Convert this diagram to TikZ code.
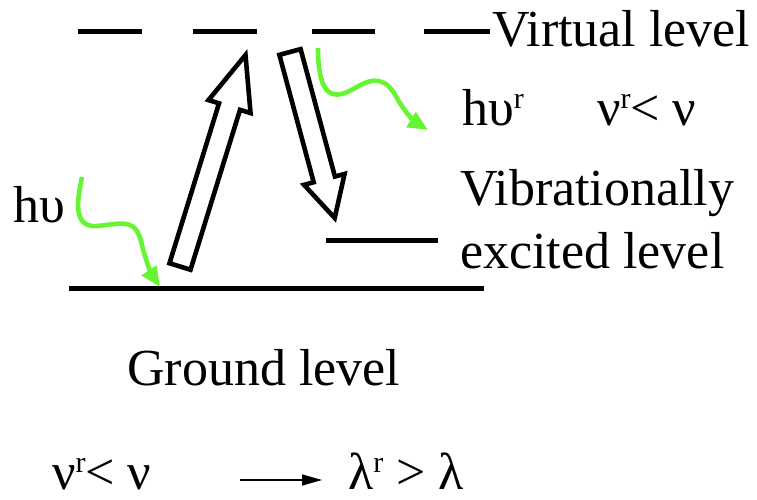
\documentclass[tikz,border=0pt]{standalone}
\usepackage{fontspec}
\setmainfont{LiberationSerif}[Extension=.ttf, UprightFont=*-Regular]
\usetikzlibrary{arrows.meta, calc}

\definecolor{ramangreen}{RGB}{102,245,51}

% raised small r
\newcommand{\supr}{\raisebox{0.32em}{\fontsize{30}{30}\selectfont r}}

% hollow block arrow: tail, tip, shaft half width, head half width, head length
\newcommand{\blockarrow}[5]{%
  \coordinate (ba-h) at ($(#2)!#5!(#1)$);
  \draw[hollow] ($(#1)!#3!90:(#2)$) -- ($(ba-h)!#3!90:(#2)$) -- ($(ba-h)!#4!90:(#2)$)
        -- (#2) -- ($(ba-h)!#4!-90:(#2)$) -- ($(ba-h)!#3!-90:(#2)$) -- ($(#1)!#3!-90:(#2)$) -- cycle;
}

\begin{document}
\begin{tikzpicture}[x=1pt, y=-1pt,
    level/.style={line width=5pt},
    hollow/.style={draw, line width=4.6pt, fill=white, line join=miter},
    photon/.style={line width=4.6pt, draw=ramangreen, -{Triangle[length=20pt, width=17pt]}},
    lvltext/.style={anchor=base west, inner sep=0pt, font=\fontsize{52}{60}\selectfont},
]
  \useasboundingbox (0,0) rectangle (757,500);

  % Virtual level (dashed)
  \foreach \xa/\xb in {78/142, 193/257, 312/375, 424/490} {
      \draw[level] (\xa,32) -- (\xb,32);
  }
  \node[lvltext] (virtual) at (492,47) {Virtual level};

  % Ground and vibrational levels
  \coordinate (ground-l) at (69,288);
  \coordinate (ground-r) at (484,288);
  \coordinate (vib-l) at (326,240);
  \coordinate (vib-r) at (438,240);
  \draw[level] (ground-l) -- (ground-r);
  \draw[level] (vib-l) -- (vib-r);

  % Excitation and Stokes transitions
  \coordinate (up-tail) at (180,266.5);
  \coordinate (up-tip) at (245.5,55);
  \coordinate (down-tail) at (290,52);
  \coordinate (down-tip) at (334.7,218);
  \blockarrow{up-tail}{up-tip}{11pt}{22pt}{54pt}
  \blockarrow{down-tail}{down-tip}{11pt}{21pt}{40pt}

  % Incident and scattered photons
  \coordinate (in-start) at (82,177);
  \coordinate (in-end) at (160,287);
  \coordinate (out-start) at (318,48);
  \coordinate (out-end) at (428,130);
  \draw[photon] (in-start) .. controls (76,205) and (74,228) .. (98,226)
        .. controls (125,223) and (136,218) .. (142,245)
        .. controls (146,262) and (152,275) .. (in-end);
  \draw[photon] (out-start) .. controls (318,100) and (335,100) .. (355,88)
        .. controls (375,76) and (387,78) .. (398,100)
        .. controls (405,112) and (415,122) .. (out-end);

  % Labels
  \node[lvltext] (hnu) at (13,222) {hυ};
  \node[lvltext] (hnur) at (462,125) {hυ\supr};
  \node[lvltext] (nucmp) at (597,125) {ν\supr< ν};
  \node[lvltext] (vibtext) at (460,205) {Vibrationally};
  \node[lvltext] (exctext) at (460,268) {excited level};
  \node[lvltext] (ground) at (127,385) {Ground level};

  % Frequency vs wavelength
  \node[lvltext] (nurel) at (52,489) {ν\supr< ν};
  \node[lvltext] (lamrel) at (348,489) {λ\supr{} > λ};
  \coordinate (cmp-from) at (240,480);
  \coordinate (cmp-to) at (322,480);
  \draw[line width=1.5pt, -{Triangle[length=20pt, width=11pt]}] (cmp-from) -- (cmp-to);
\end{tikzpicture}
\end{document}
